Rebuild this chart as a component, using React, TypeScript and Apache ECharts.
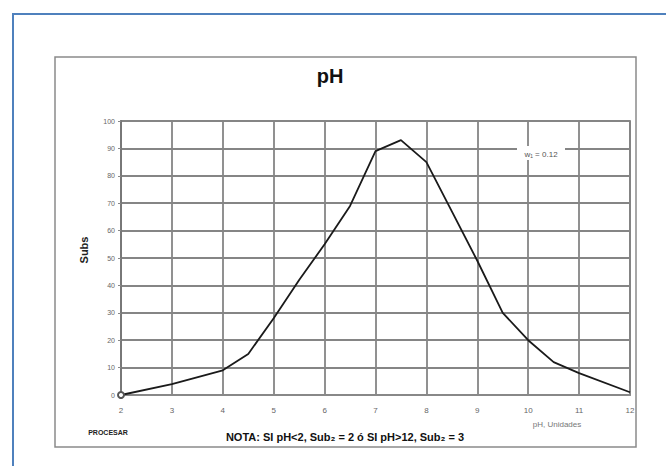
import React, { useEffect, useRef } from "react";
import * as echarts from "echarts";

const phValues = [2, 3, 4, 4.5, 5, 5.5, 6, 6.5, 7, 7.5, 8, 8.5, 9, 9.5, 10, 10.5, 11, 12];
const subValues = [0, 4, 9, 15, 28, 42, 55, 69, 89, 93, 85, 67, 49, 30, 20, 12, 8, 1];
const titleText = "pH";
const yAxisName = "Subs";
const xAxisName = "pH, Unidades";
const weightText = "w\u2081 = 0.12";
const noteText = "NOTA: SI pH<2, Sub\u2082 = 2 ó SI pH>12, Sub\u2082 = 3";
const buttonText = "PROCESAR";

export default function App() {
  const ref = useRef<HTMLDivElement>(null);
  useEffect(() => {
    if (!ref.current) return;
    const chart = echarts.init(ref.current, null, { renderer: "svg" });
    const data = phValues.map((x, i) => [x, subValues[i]]);
    const font = "'Liberation Sans', Arial, sans-serif";
    chart.setOption({
      animation: false,
      backgroundColor: "#ffffff",
      grid: {
        left: 121,
        right: 36,
        top: 121,
        bottom: 71,
        show: true,
        borderColor: "#555",
        borderWidth: 1.5,
      },
      xAxis: {
        type: "value",
        min: 2,
        max: 12,
        interval: 1,
        axisLine: { show: true, lineStyle: { color: "#888", width: 1.8 } },
        axisTick: { show: false },
        axisLabel: { fontSize: 8, color: "#666", margin: 11, fontFamily: font },
        splitLine: { show: true, lineStyle: { color: "#858585", width: 1.8 } },
      },
      yAxis: {
        type: "value",
        min: 0,
        max: 100,
        interval: 10,
        axisLine: { show: true, lineStyle: { color: "#777", width: 1.8 } },
        axisTick: { show: true, length: 3, lineStyle: { color: "#888" } },
        axisLabel: { fontSize: 7, color: "#666", margin: 6, fontFamily: font },
        splitLine: { show: true, lineStyle: { color: "#858585", width: 1.8 } },
      },
      series: [
        {
          type: "line",
          data,
          showSymbol: true,
          symbol: (v: number[], p: any) => (p.dataIndex === 0 ? "emptyCircle" : "none"),
          symbolSize: 6,
          itemStyle: { color: "#555", borderColor: "#555", borderWidth: 1 },
          lineStyle: { color: "#1a1a1a", width: 1.8 },
        },
      ],
      graphic: [
        {
          type: "rect",
          shape: { x: 13, y: 14, width: 700, height: 500 },
          style: { fill: "none", stroke: "#4f81bd", lineWidth: 2 },
          z: 0,
        },
        {
          type: "rect",
          shape: { x: 55, y: 57, width: 581, height: 390 },
          style: { fill: "none", stroke: "#8a8a8a", lineWidth: 1.5 },
          z: 0,
        },
        {
          type: "text",
          x: 330,
          y: 76,
          style: {
            text: titleText,
            font: `bold 20px ${font}`,
            fill: "#111",
            textAlign: "center",
            textVerticalAlign: "middle",
          },
        },
        {
          type: "text",
          x: 84,
          y: 250,
          rotation: Math.PI / 2,
          style: {
            text: yAxisName,
            font: `bold 11px ${font}`,
            fill: "#222",
            textAlign: "center",
            textVerticalAlign: "middle",
          },
        },
        {
          type: "rect",
          shape: { x: 517, y: 146, width: 48, height: 14 },
          style: { fill: "#ffffff" },
          z: 10,
        },
        {
          type: "text",
          x: 541,
          y: 154,
          z: 11,
          style: {
            text: weightText,
            font: `8px ${font}`,
            fill: "#555",
            textAlign: "center",
            textVerticalAlign: "middle",
          },
        },
        {
          type: "text",
          x: 557,
          y: 424,
          style: {
            text: xAxisName,
            font: `8px ${font}`,
            fill: "#777",
            textAlign: "center",
            textVerticalAlign: "middle",
          },
        },
        {
          type: "text",
          x: 108,
          y: 432,
          style: {
            text: buttonText,
            font: `bold 7px ${font}`,
            fill: "#222",
            textAlign: "center",
            textVerticalAlign: "middle",
          },
        },
        {
          type: "text",
          x: 345,
          y: 437,
          style: {
            text: noteText,
            font: `bold 11px ${font}`,
            fill: "#111",
            textAlign: "center",
            textVerticalAlign: "middle",
          },
        },
      ],
    });
    return () => chart.dispose();
  }, []);
  return (
    <div
      ref={ref}
      style={{ position: "fixed", left: 0, top: 0, width: 666, height: 466 }}
    />
  );
}
